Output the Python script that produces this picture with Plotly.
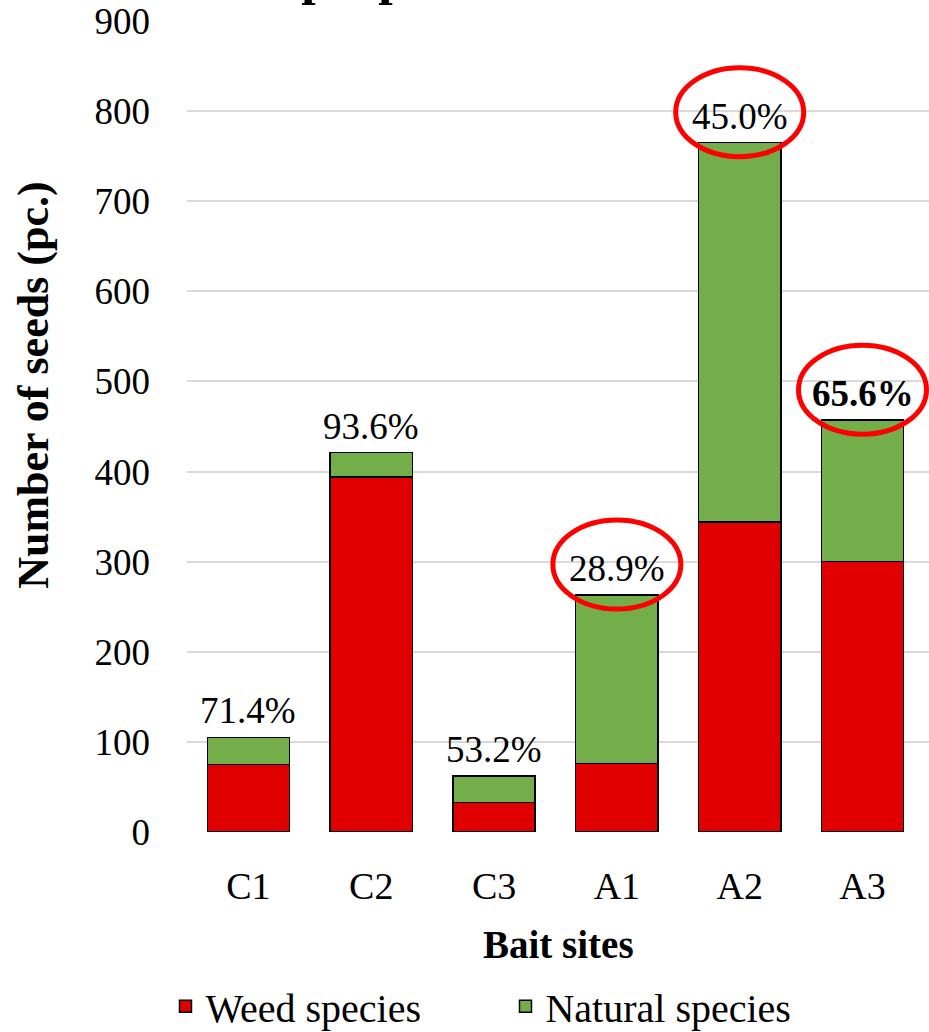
import plotly.graph_objects as go

# Seed counts per bait site
sites = ["C1", "C2", "C3", "A1", "A2", "A3"]
weed = [75, 394, 33, 76, 344, 300]
natural = [30, 27, 29, 187, 421, 157]
# Sites whose weed share is circled, and the one printed in bold
circled = ["A1", "A2", "A3"]
bold_sites = ["A3"]

FONT = "Liberation Serif"
totals = [w + n for w, n in zip(weed, natural)]
shares = [100.0 * w / t for w, t in zip(weed, totals)]

fig = go.Figure()
fig.add_trace(go.Bar(
    x=sites, y=weed, name="Weed species",
    marker=dict(color="#e00000", line=dict(color="#000000", width=1.5)),
))
fig.add_trace(go.Bar(
    x=sites, y=natural, name="Natural species",
    marker=dict(color="#74ae4a", line=dict(color="#000000", width=1.5)),
))

annotations = []
shapes = []
for i, (s, t, p) in enumerate(zip(sites, totals, shares)):
    label = f"{p:.1f}%"
    if s in bold_sites:
        label = f"<b>{label}</b>"
    annotations.append(dict(
        x=s, y=t, xref="x", yref="y", text=label, showarrow=False,
        yanchor="bottom", yshift=4, font=dict(family=FONT, size=37, color="#000000"),
    ))
    if s in circled:
        shapes.append(dict(
            type="circle", xref="x", yref="y",
            xsizemode="pixel", xanchor=i, x0=-64, x1=64,
            ysizemode="pixel", yanchor=t, y0=-14, y1=75,
            line=dict(color="#ff0000", width=5),
        ))

# Axis titles
annotations.append(dict(
    text="<b>Bait sites</b>", xref="paper", yref="paper", x=0.5, y=-0.139,
    showarrow=False, xanchor="center", yanchor="middle",
    font=dict(family=FONT, size=39, color="#000000"),
))
annotations.append(dict(
    text="<b>Number of seeds (pc.)</b>", xref="paper", yref="paper", x=-0.208, y=0.551,
    showarrow=False, xanchor="center", yanchor="middle", textangle=-90,
    font=dict(family=FONT, size=44, color="#000000"),
))
# Chart title (sits above the top edge)
annotations.append(dict(
    text="<b>Weed proportion</b>", xref="paper", yref="paper", x=-0.034, y=1.0,
    yshift=14, showarrow=False, xanchor="left", yanchor="bottom",
    font=dict(family=FONT, size=52, color="#000000"),
))

fig.update_layout(
    width=929, height=1032,
    margin=dict(l=187, r=0, t=21, b=200, autoexpand=False),
    barmode="stack", bargap=0.33,
    plot_bgcolor="#ffffff", paper_bgcolor="#ffffff",
    font=dict(family=FONT, size=37, color="#000000"),
    showlegend=True,
    legend=dict(
        orientation="h", x=-0.029, y=-0.215, xanchor="left", yanchor="middle",
        font=dict(family=FONT, size=40, color="#000000"),
        traceorder="normal", entrywidth=295, itemwidth=30,
    ),
    annotations=annotations, shapes=shapes,
)
fig.update_xaxes(
    showline=False, showgrid=False, ticks="", ticklabelstandoff=28,
    tickfont=dict(family=FONT, size=38, color="#000000"),
)
fig.update_yaxes(
    range=[0, 900], dtick=100, showgrid=True, gridcolor="#d9d9d9", gridwidth=1.5,
    zeroline=False, showline=False, ticks="", ticklabelstandoff=36,
    tickfont=dict(family=FONT, size=37, color="#000000"),
)

fig.write_html("out.html")
